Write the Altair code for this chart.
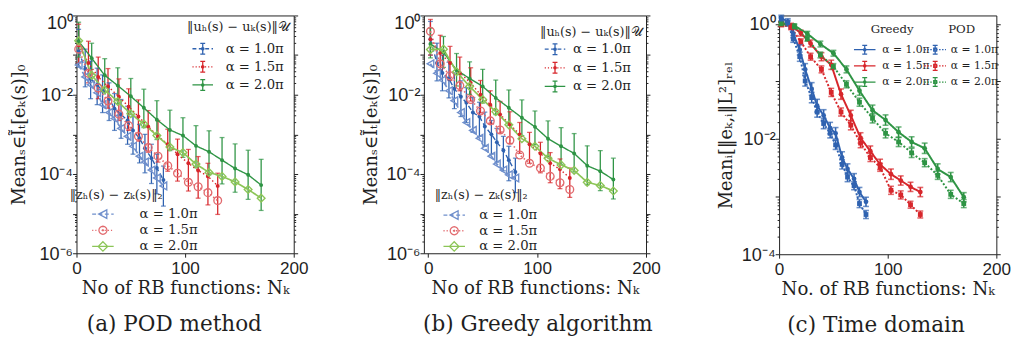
import math
import altair as alt
import pandas as pd

SERIF = "DejaVu Serif"
SANS = "Liberation Sans"
INK = "#1f1f1f"

BLUE, RED, GREEN = "#2f62b0", "#d7262b", "#2e9444"
LBLUE, LRED, LGREEN = "#6f8fcc", "#e26a6e", "#8cc557"

# ---------------------------------------------------------------- data
# number of RB functions for each alpha
N_A10 = [2, 8, 13, 19, 24, 30, 35, 41, 47, 52, 58, 63, 69, 74, 80]
N_A15 = [2, 11, 20, 29, 39, 48, 57, 66, 75, 84, 93, 103, 112, 121, 130]
N_A20 = [2, 14, 26, 38, 50, 62, 74, 86, 98, 110, 122, 134, 146, 158, 170]
ALPHA_LABELS = ["α = 1.0π", "α = 1.5π", "α = 2.0π"]

# (a) POD method -- log10 of the mean errors, error bars in decades above / below
POD_U10 = [-0.90, -1.35, -1.60, -1.75, -1.90, -2.10, -2.35, -2.50, -2.65, -2.90, -3.10, -3.35, -3.60, -3.85, -4.15]
POD_U10_UP = [0.55, 0.50, 0.45, 0.42, 0.40, 0.40, 0.38, 0.38, 0.36, 0.36, 0.35, 0.35, 0.35, 0.35, 0.35]
POD_U10_DN = [0.40, 0.45, 0.50, 0.50, 0.55, 0.55, 0.55, 0.60, 0.60, 0.60, 0.62, 0.62, 0.64, 0.65, 0.66]
POD_Z10 = [-1.25, -1.55, -1.75, -1.95, -2.25, -2.45, -2.60, -2.85, -3.05, -3.30, -3.55, -3.70, -3.90, -4.10, -4.30]
POD_U15 = [-0.75, -1.20, -1.55, -1.79, -2.05, -2.30, -2.55, -2.80, -3.05, -3.25, -3.50, -3.73, -3.91, -4.06, -4.30]
POD_U15_UP = [0.53, 0.55, 0.50, 0.45, 0.45, 0.45, 0.42, 0.40, 0.40, 0.38, 0.38, 0.35, 0.35, 0.33, 0.32]
POD_U15_DN = [0.45, 0.50, 0.55, 0.55, 0.60, 0.60, 0.62, 0.65, 0.65, 0.68, 0.68, 0.70, 0.70, 0.72, 0.72]
POD_Z15 = [-0.85, -1.46, -1.83, -2.16, -2.49, -2.78, -3.05, -3.33, -3.55, -3.79, -3.98, -4.21, -4.32, -4.47, -4.67]
POD_U20 = [-0.65, -1.08, -1.51, -1.77, -2.04, -2.33, -2.63, -2.89, -3.03, -3.29, -3.44, -3.65, -3.86, -4.02, -4.28]
POD_U20_UP = [0.48, 0.38, 0.42, 0.45, 0.45, 0.47, 0.48, 0.50, 0.45, 0.51, 0.53, 0.57, 0.62, 0.62, 0.65]
POD_U20_DN = [0.40, 0.40, 0.42, 0.45, 0.45, 0.50, 0.50, 0.52, 0.55, 0.55, 0.58, 0.60, 0.60, 0.62, 0.64]
POD_Z20 = [-0.64, -1.51, -1.88, -2.17, -2.48, -2.74, -3.03, -3.32, -3.46, -3.75, -3.96, -4.06, -4.20, -4.39, -4.61]

# (b) Greedy algorithm
GRD_U10 = [-0.60, -1.20, -1.45, -1.60, -1.85, -2.05, -2.20, -2.45, -2.55, -2.80, -3.00, -3.20, -3.40, -3.65, -3.95]
GRD_U10_UP = [0.45, 0.50, 0.45, 0.42, 0.40, 0.40, 0.38, 0.38, 0.36, 0.36, 0.35, 0.35, 0.35, 0.35, 0.35]
GRD_U10_DN = [0.40, 0.45, 0.45, 0.48, 0.50, 0.50, 0.50, 0.50, 0.50, 0.50, 0.50, 0.50, 0.52, 0.52, 0.52]
GRD_Z10 = [-1.22, -1.46, -1.63, -1.90, -2.15, -2.45, -2.70, -2.90, -3.10, -3.35, -3.55, -3.75, -3.90, -4.02, -4.10]
GRD_U15 = [-0.60, -0.95, -1.20, -1.45, -1.70, -2.00, -2.25, -2.50, -2.75, -3.00, -3.25, -3.48, -3.73, -3.88, -4.10]
GRD_U15_UP = [0.50, 0.45, 0.42, 0.40, 0.38, 0.36, 0.35, 0.33, 0.32, 0.30, 0.30, 0.28, 0.27, 0.26, 0.25]
GRD_U15_DN = [0.40, 0.42, 0.44, 0.45, 0.46, 0.46, 0.47, 0.47, 0.48, 0.48, 0.48, 0.49, 0.49, 0.49, 0.49]
GRD_Z15 = [-0.40, -1.22, -1.52, -1.77, -2.12, -2.41, -2.66, -2.89, -3.15, -3.52, -3.73, -3.85, -4.06, -4.22, -4.39]
GRD_U20 = [-0.72, -0.93, -1.38, -1.59, -1.79, -2.08, -2.33, -2.58, -2.81, -3.11, -3.30, -3.48, -3.79, -3.93, -4.14]
GRD_U20_UP = [0.40, 0.40, 0.42, 0.42, 0.43, 0.45, 0.45, 0.45, 0.40, 0.45, 0.47, 0.50, 0.50, 0.52, 0.54]
GRD_U20_DN = [0.35, 0.38, 0.40, 0.40, 0.42, 0.42, 0.44, 0.45, 0.45, 0.46, 0.46, 0.47, 0.48, 0.49, 0.49]
GRD_Z20 = [-0.86, -0.85, -1.42, -1.79, -2.12, -2.43, -2.76, -3.11, -3.30, -3.60, -3.77, -3.91, -4.21, -4.29, -4.43]

# (c) Time domain: greedy (G) and POD (P), error bar half widths in decades
TD_G10 = [0.10, 0.04, -0.17, -0.45, -0.79, -1.13, -1.42, -1.59, -1.81, -1.90, -2.32, -2.52, -2.69, -2.92, -3.09]
TD_P10 = [0.07, 0.01, -0.26, -0.57, -0.99, -1.28, -1.53, -1.73, -1.90, -2.10, -2.44, -2.66, -2.81, -3.12, -3.31]
TD_G15 = [0.00, -0.03, -0.16, -0.34, -0.57, -0.71, -1.22, -1.59, -1.98, -2.21, -2.44, -2.61, -2.72, -2.83, -2.92]
TD_P15 = [-0.01, -0.06, -0.31, -0.57, -0.79, -1.19, -1.53, -1.76, -2.07, -2.32, -2.49, -2.89, -2.97, -3.14, -3.31]
TD_G20 = [0.01, -0.03, -0.17, -0.35, -0.51, -0.79, -1.16, -1.50, -1.67, -1.88, -2.05, -2.16, -2.52, -2.66, -3.01]
TD_P20 = [0.00, -0.05, -0.26, -0.54, -0.74, -1.05, -1.36, -1.64, -1.90, -2.05, -2.24, -2.41, -2.63, -2.96, -3.12]
TD_G10_E = [0.05, 0.05, 0.07, 0.09, 0.10, 0.11, 0.11, 0.10, 0.10, 0.10, 0.10, 0.09, 0.09, 0.08, 0.08]
TD_P10_E = [0.05, 0.05, 0.06, 0.08, 0.09, 0.09, 0.09, 0.09, 0.08, 0.08, 0.08, 0.08, 0.07, 0.07, 0.07]
TD_G15_E = [0.04, 0.04, 0.05, 0.06, 0.07, 0.08, 0.09, 0.09, 0.09, 0.09, 0.09, 0.09, 0.08, 0.08, 0.08]
TD_P15_E = [0.04, 0.04, 0.05, 0.06, 0.06, 0.07, 0.07, 0.08, 0.08, 0.07, 0.07, 0.07, 0.07, 0.06, 0.06]
TD_G20_E = [0.03, 0.03, 0.04, 0.05, 0.05, 0.06, 0.08, 0.09, 0.09, 0.09, 0.09, 0.09, 0.09, 0.08, 0.08]
TD_P20_E = [0.03, 0.03, 0.04, 0.05, 0.05, 0.06, 0.07, 0.08, 0.08, 0.08, 0.08, 0.07, 0.07, 0.07, 0.07]


def table(N, logv, key, up=None, dn=None):
    d = {"N": N, "v": [10 ** x for x in logv], "key": [key] * len(N)}
    if up is not None:
        d["hi"] = [10 ** (x + e) for x, e in zip(logv, up)]
        d["lo"] = [10 ** (x - e) for x, e in zip(logv, dn)]
    return pd.DataFrame(d)


# ---------------------------------------------------------------- legend symbols
def ring(cx, cy, rad, n=14):
    pts = [(cx + rad * math.cos(2 * math.pi * k / n), cy + rad * math.sin(2 * math.pi * k / n)) for k in range(n)]
    return "M" + "L".join(f"{x:.3f},{y:.3f}" for x, y in pts) + "Z"


def sym(W, half, dash, bar=None, dot=None, marker=None):
    r = (W - 1.31) / 2.0
    segs = []
    if dash is None:
        segs.append((-half, half))
    else:
        x = -half
        while x < half - 1e-6:
            e = min(x + dash[0], half)
            segs.append((x, e))
            x = e + dash[1]
    p = "".join(f"M{a / r:.3f},0H{b / r:.3f}" for a, b in segs)
    if bar:
        h, c = bar[0] / r, bar[1] / r
        p += f"M0,{-h:.3f}V{h:.3f}M{-c:.3f},{-h:.3f}H{c:.3f}M{-c:.3f},{h:.3f}H{c:.3f}"
    if dot == "circle":
        p += ring(0, 0, 1.2 / r)
    elif dot == "square":
        s = 1.5 / r
        p += f"M{-s:.3f},{-s:.3f}H{s:.3f}V{s:.3f}H{-s:.3f}Z"
    if marker == "tri":
        s = 4.4 / r
        p += f"M{-s:.3f},0L{0.9 * s:.3f},{-s:.3f}L{0.9 * s:.3f},{s:.3f}Z"
    elif marker == "circ":
        p += ring(0, 0, 4.1 / r, 16) + ring(0, 0, 0.5 / r, 8)
    elif marker == "dia":
        s = 4.8 / r
        p += f"M0,{-s:.3f}L{s:.3f},0L0,{s:.3f}L{-s:.3f},0Z"
    return p


def legend(title, lx, ly, W, pitch, sym_off, lab_off, tpad, tfs, lfs, anchor="start"):
    return alt.Legend(
        title=title, orient="none", legendX=lx, legendY=ly,
        symbolSize=(W - 1.31) ** 2, symbolOffset=sym_off, labelOffset=lab_off,
        symbolStrokeWidth=1.3, rowPadding=pitch - W, padding=0,
        titleFont=SERIF, titleFontSize=tfs, titleFontWeight="normal", titleColor=INK,
        titlePadding=tpad, titleAnchor=anchor, titleLimit=0,
        labelFont=SERIF, labelFontSize=lfs, labelColor=INK, labelLimit=0,
    )


def legend_layer(field, colors, paths, leg):
    return (
        alt.Chart(pd.DataFrame({field: ALPHA_LABELS}))
        .transform_filter("false")
        .mark_point(filled=False, strokeWidth=1.3, opacity=1)
        .encode(
            color=alt.Color(f"{field}:N", scale=alt.Scale(domain=ALPHA_LABELS, range=colors), legend=leg),
            shape=alt.Shape(f"{field}:N", scale=alt.Scale(domain=ALPHA_LABELS, range=paths), legend=leg),
        )
    )


# ---------------------------------------------------------------- axes
DEC = "abs(log(datum.value)/LN10 - round(log(datum.value)/LN10)) < 0.001"


def label_expr(pairs):
    s = "''"
    for val, txt in reversed(pairs):
        s = f"abs(datum.value/{val!r} - 1) < 1e-6 ? '{txt}' : " + s
    return s


def y_axes(vals, expr, title, tpad, flush_top):
    kw = dict(
        values=vals, labelExpr=expr, title=title, orient="left",
        tickSize={"condition": {"test": DEC, "value": 4}, "value": 2},
        tickColor=INK, tickWidth=1, domain=False, grid=False, labelOverlap=False,
        labelFont=SANS, labelFontSize=18.5, labelColor=INK, labelPadding=0,
        titleFont=SERIF, titleFontSize=18, titleFontWeight="normal", titleColor=INK,
        titlePadding=tpad,
    )
    if flush_top:
        kw["labelBaseline"] = {"condition": {"test": "datum.value >= 1", "value": "top"}, "value": "middle"}
        kw["labelOffset"] = {"condition": {"test": "datum.value >= 1", "value": -2}, "value": 0}
    left = alt.Axis(**kw)
    right = alt.Axis(
        values=vals, labels=False, title=None, orient="right",
        tickSize={"condition": {"test": DEC, "value": 4}, "value": 2},
        tickColor=INK, tickWidth=1, domain=False, grid=False,
    )
    return left, right


def x_axis(title):
    return alt.Axis(
        values=[0, 100, 200], tickSize=4, tickColor=INK, domain=False, grid=False,
        labelFont=SANS, labelFontSize=17.5, labelColor=INK, labelPadding=3,
        labelFlush=False, labelOverlap=False,
        title=title, titleFont=SERIF, titleFontSize=18.5, titleFontWeight="normal",
        titleColor=INK, titleY=26, titleBaseline="top",
    )


def panel(width, height, xdom, ydom, yvals, yexpr, ytitle, tpad, flush_top, xtitle,
          bars, lines_a, lines_b, dots, marks, style, lw, legend_layers, caption, cap_dx,
          dot_size, mark_size, capw, barw):
    keys = list(style)

    def sc(i):
        return alt.Scale(domain=keys, range=[style[k][i] for k in keys])

    X = alt.X("N:Q", scale=alt.Scale(domain=xdom, nice=False, zero=False), axis=x_axis(xtitle))
    ysc = alt.Scale(type="log", domain=ydom, nice=False)
    left, right = y_axes(yvals, yexpr, ytitle, tpad, flush_top)
    C = alt.Color("key:N", scale=sc(0), legend=None)
    SD = alt.StrokeDash("key:N", scale=sc(1), legend=None)
    SH = alt.Shape("key:N", scale=sc(2), legend=None)

    layers = [
        alt.Chart(bars).mark_rule(strokeWidth=barw).encode(
            x=X, y=alt.Y("lo:Q", scale=ysc, axis=left), y2="hi:Q", color=C),
        alt.Chart(bars).mark_tick(orient="horizontal", size=capw, thickness=barw).encode(
            x=X, y=alt.Y("lo:Q", scale=ysc, axis=None), color=C),
        alt.Chart(bars).mark_tick(orient="horizontal", size=capw, thickness=barw).encode(
            x=X, y=alt.Y("hi:Q", scale=ysc, axis=None), color=C),
        alt.Chart(lines_a).mark_line(strokeWidth=lw[0]).encode(
            x=X, y=alt.Y("v:Q", scale=ysc, axis=right), color=C, strokeDash=SD, detail="key:N"),
    ]
    if lines_b is not None:
        layers.append(alt.Chart(lines_b).mark_line(strokeWidth=lw[1]).encode(
            x=X, y=alt.Y("v:Q", scale=ysc, axis=None), color=C, strokeDash=SD, detail="key:N"))
    layers.append(alt.Chart(dots).mark_point(filled=True, size=dot_size, opacity=1).encode(
        x=X, y=alt.Y("v:Q", scale=ysc, axis=None), color=C, shape=SH))
    if marks is not None:
        layers.append(alt.Chart(marks).mark_point(filled=False, size=mark_size, strokeWidth=1.4, opacity=1).encode(
            x=X, y=alt.Y("v:Q", scale=ysc, axis=None), color=C, shape=SH))
    layers += legend_layers

    return (
        alt.layer(*layers)
        .resolve_scale(color="independent", shape="independent", strokeDash="independent")
        .resolve_axis(y="independent")
        .properties(
            width=width, height=height,
            title=alt.TitleParams(
                text=caption, orient="bottom", anchor="middle", frame="group",
                font=SERIF, fontSize=22, fontWeight="normal", color=INK, offset=18, dx=cap_dx),
        )
    )


# ---------------------------------------------------------------- build
Y_AB = [10.0 ** e for e in range(-6, 1)] + [k * 10.0 ** e for e in range(-6, 0) for k in range(2, 10)]
Y_C = [10.0 ** e for e in range(-4, 1)] + [k * 10.0 ** e for e in range(-4, 0) for k in range(2, 10)]
EXPR_AB = label_expr([(1.0, "10⁰"), (0.01, "10⁻²"), (0.0001, "10⁻⁴"), (0.000001, "10⁻⁶")])
EXPR_C = label_expr([(1.0, "10⁰"), (0.01, "10⁻²"), (0.0001, "10⁻⁴")])

STYLE_AB = {
    "u10": (BLUE, [5, 3], "circle"), "u15": (RED, [1.5, 2.5], "circle"), "u20": (GREEN, [1, 0], "circle"),
    "z10": (LBLUE, [5, 3], "triangle-left"), "z15": (LRED, [1.5, 2.5], "circle"), "z20": (LGREEN, [1, 0], "diamond"),
}
STYLE_C = {
    "g10": (BLUE, [1, 0], "circle"), "g15": (RED, [1, 0], "circle"), "g20": (GREEN, [1, 0], "circle"),
    "p10": (BLUE, [2, 2], "square"), "p15": (RED, [2, 2], "square"), "p20": (GREEN, [2, 2], "square"),
}

U_TITLE = "‖uₕ(s) − uₖ(s)‖𝒰"
Z_TITLE = "‖zₕ(s) − zₖ(s)‖₂"
U_DASH = [(4, 2.5), (1.2, 2.0), None]


def ab_panel(U, Z, caption, cap_dx, tpad, width, xdom, uleg, zleg):
    (u10, u10u, u10d), (u15, u15u, u15d), (u20, u20u, u20d) = U
    bars = pd.concat([table(N_A10, u10, "u10", u10u, u10d), table(N_A15, u15, "u15", u15u, u15d),
                      table(N_A20, u20, "u20", u20u, u20d)])
    ulines = pd.concat([table(N_A10, u10, "u10"), table(N_A15, u15, "u15"), table(N_A20, u20, "u20")])
    zl = pd.concat([table(N_A10, Z[0], "z10"), table(N_A15, Z[1], "z15"), table(N_A20, Z[2], "z20")])
    Wu, Wz = uleg[2], zleg[2]
    upaths = [sym(Wu, 10.5, d, bar=(5.5, 2.5), dot="circle") for d in U_DASH]
    zpaths = [sym(Wz, 11, U_DASH[0], marker="tri"), sym(Wz, 11, U_DASH[1], marker="circ"),
              sym(Wz, 11, None, marker="dia")]
    legs = [
        legend_layer("lu", [BLUE, RED, GREEN], upaths, legend(U_TITLE, *uleg, 13, 13.5)),
        legend_layer("lz", [LBLUE, LRED, LGREEN], zpaths, legend(Z_TITLE, *zleg, 13, 13.5)),
    ]
    return panel(width, 243, xdom, [1e-6, 1], Y_AB, EXPR_AB, "Meanₛ∈Ĩₜ[eₖ(s)]₀", tpad, True,
                 "No of RB functions: Nₖ", bars, ulines, zl, ulines, zl, STYLE_AB, (1.4, 1.7), legs,
                 caption, cap_dx, 16, 62, 5, 1.3)


# legend params: (legendX, legendY, W, pitch, symbolOffset, labelOffset, titlePadding)
pa = ab_panel(
    [(POD_U10, POD_U10_UP, POD_U10_DN), (POD_U15, POD_U15_UP, POD_U15_DN), (POD_U20, POD_U20_UP, POD_U20_DN)],
    [POD_Z10, POD_Z15, POD_Z20], "(a) POD method", -11, 10.5, 222, [0, 200],
    (113, 6, 19, 19.5, 6.5, 14, 5.5), (-7, 178, 17, 17.5, 25.5, 29, 3.5))
pb = ab_panel(
    [(GRD_U10, GRD_U10_UP, GRD_U10_DN), (GRD_U15, GRD_U15_UP, GRD_U15_DN), (GRD_U20, GRD_U20_UP, GRD_U20_DN)],
    [GRD_Z10, GRD_Z15, GRD_Z20], "(b) Greedy algorithm", 3, 5.5, 227, [-4, 200],
    (118.7, 11, 20, 20, 5.3, 8.3, 0.5), (11, 178, 17, 17, 11.5, 17, 4.5))

bars_c = pd.concat([
    table(N_A10, TD_G10, "g10", TD_G10_E, TD_G10_E), table(N_A15, TD_G15, "g15", TD_G15_E, TD_G15_E),
    table(N_A20, TD_G20, "g20", TD_G20_E, TD_G20_E), table(N_A10, TD_P10, "p10", TD_P10_E, TD_P10_E),
    table(N_A15, TD_P15, "p15", TD_P15_E, TD_P15_E), table(N_A20, TD_P20, "p20", TD_P20_E, TD_P20_E)])
lines_c = pd.concat([
    table(N_A10, TD_G10, "g10"), table(N_A15, TD_G15, "g15"), table(N_A20, TD_G20, "g20"),
    table(N_A10, TD_P10, "p10"), table(N_A15, TD_P15, "p15"), table(N_A20, TD_P20, "p20")])
Wc = 14
gpaths = [sym(Wc, 11, None, bar=(4.5, 2.5), dot="circle")] * 3
ppaths = [sym(Wc, 11, (1.5, 1.5), bar=(4.5, 2.5), dot="square")] * 3
legs_c = [
    legend_layer("lg", [BLUE, RED, GREEN], gpaths, legend("Greedy", 76.5, 9, Wc, 14.5, 4, 11, 7, 12, 11, "middle")),
    legend_layer("lp", [BLUE, RED, GREEN], ppaths, legend("POD", 148.5, 9, Wc, 14.5, 4, 9, 7, 12, 11, "middle")),
]
pc = panel(222, 244, [0, 200], [1e-4, 1.4], Y_C, EXPR_C, "Meanᵢ[‖eₖ,ᵢ‖L²]ᵣₑₗ", 6, False,
           "No. of RB functions: Nₖ", bars_c, lines_c, None, lines_c, None, STYLE_C, (2.0, 2.0), legs_c,
           "(c) Time domain", -12, 24, 50, 6, 1.6)

inner = alt.hconcat(pa, pb, spacing=54).resolve_scale(color="independent", shape="independent", strokeDash="independent")
chart = (
    alt.hconcat(inner, pc, spacing=56)
    .resolve_scale(color="independent", shape="independent", strokeDash="independent")
    .configure_view(stroke=INK, strokeWidth=1)
    .properties(padding={"left": 2, "top": -4, "right": 0, "bottom": 0})
)

chart.save("out.html", embed_options={"renderer": "svg", "actions": False})
